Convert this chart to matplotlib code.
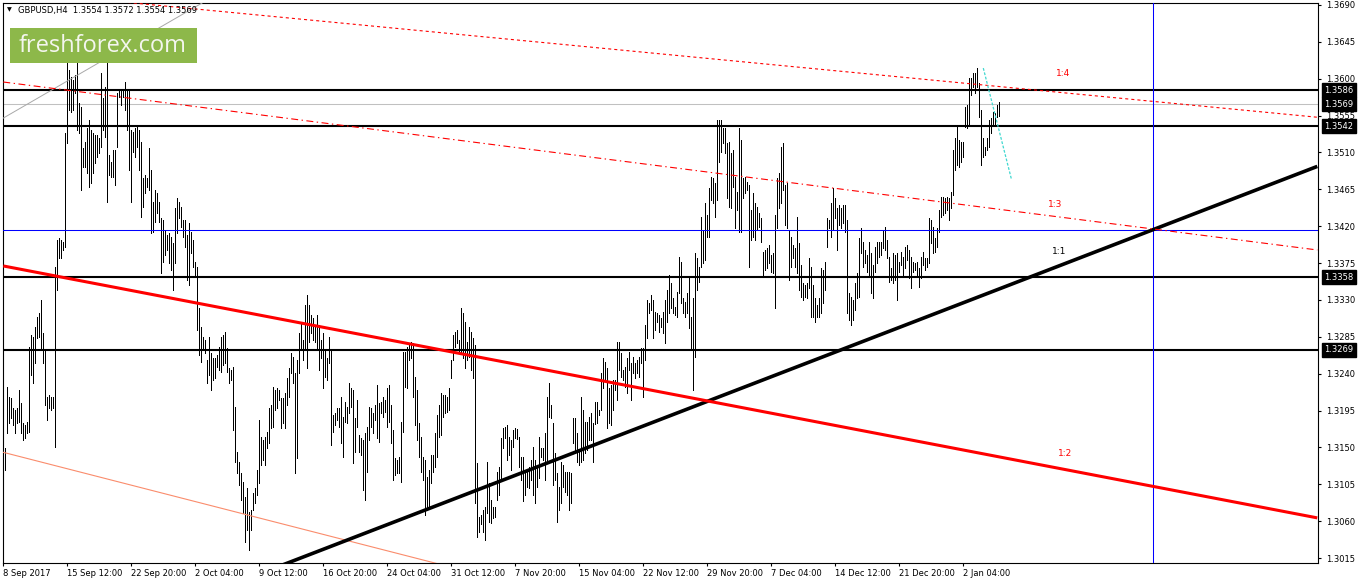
import numpy as np
import matplotlib
matplotlib.use("Agg")
import matplotlib.pyplot as plt
from matplotlib.patches import Rectangle
from matplotlib.transforms import blended_transform_factory

plt.rcParams['font.family'] = ['DejaVu Sans']
plt.rcParams['lines.scale_dashes'] = False

# GBPUSD H4 bars, high / low in pips above 1.3000
high_pips = [
    138, 149, 224, 212, 210, 198, 196, 198, 220, 204, 180, 177, 181, 273, 287, 285, 297, 309, 314, 330,
    290, 269, 212, 214, 212, 212, 370, 403, 406, 403, 401, 534, 625, 611, 602, 598, 604, 630, 570, 565,
    515, 523, 540, 550, 537, 534, 531, 531, 528, 607, 576, 590, 655, 507, 498, 513, 513, 583, 586, 586,
    586, 596, 586, 586, 537, 535, 540, 543, 537, 523, 479, 483, 479, 515, 489, 450, 464, 461, 450, 430,
    428, 415, 409, 412, 407, 400, 442, 454, 450, 443, 428, 428, 409, 424, 413, 403, 376, 370, 320, 297,
    285, 281, 257, 285, 265, 259, 259, 263, 273, 285, 287, 291, 271, 247, 245, 248, 199, 144, 132, 119,
    108, 90, 101, 71, 74, 94, 101, 123, 184, 163, 159, 163, 169, 198, 202, 224, 220, 223, 220, 210,
    210, 217, 235, 247, 265, 260, 241, 257, 290, 302, 281, 324, 336, 324, 312, 308, 297, 312, 300, 281,
    290, 269, 259, 285, 269, 190, 192, 198, 198, 212, 187, 206, 199, 229, 223, 220, 186, 208, 165, 162,
    159, 168, 175, 199, 198, 192, 202, 226, 204, 206, 212, 208, 223, 226, 202, 171, 137, 135, 138, 181,
    267, 267, 273, 275, 279, 278, 236, 220, 180, 163, 138, 135, 114, 123, 141, 141, 168, 190, 202, 217,
    214, 214, 212, 223, 257, 287, 291, 293, 281, 320, 314, 303, 279, 297, 291, 284, 275, 131, 65, 68,
    74, 77, 132, 107, 86, 77, 77, 120, 126, 162, 174, 175, 177, 163, 159, 171, 174, 172, 163, 138,
    138, 123, 120, 126, 135, 151, 135, 126, 163, 149, 149, 168, 212, 229, 202, 180, 143, 119, 102, 132,
    129, 120, 120, 120, 119, 186, 186, 168, 145, 212, 196, 181, 181, 187, 192, 180, 206, 206, 196, 241,
    259, 254, 247, 223, 226, 232, 232, 279, 279, 265, 245, 248, 259, 267, 253, 260, 253, 257, 260, 271,
    271, 300, 330, 326, 336, 330, 315, 314, 312, 308, 315, 330, 342, 361, 351, 332, 321, 340, 382, 376,
    332, 328, 339, 357, 309, 332, 387, 381, 370, 431, 415, 448, 434, 467, 480, 479, 473, 550, 550, 550,
    540, 540, 522, 523, 509, 513, 480, 462, 540, 525, 479, 480, 474, 470, 440, 461, 448, 443, 436, 430,
    389, 391, 393, 397, 385, 387, 434, 479, 485, 517, 522, 470, 473, 415, 407, 397, 393, 431, 400, 373,
    351, 348, 351, 381, 370, 348, 332, 324, 332, 369, 367, 376, 430, 428, 448, 467, 454, 442, 446, 442,
    446, 446, 428, 338, 334, 330, 351, 363, 406, 418, 401, 391, 385, 401, 387, 373, 395, 401, 401, 401,
    415, 419, 403, 382, 369, 387, 385, 387, 376, 389, 382, 395, 397, 391, 382, 376, 375, 376, 369, 382,
    389, 381, 381, 430, 428, 419, 406, 418, 440, 456, 456, 454, 456, 454, 462, 513, 528, 541, 525, 523,
    523, 565, 568, 601, 601, 607, 607, 613, 595, 562, 528, 517, 528, 550, 552, 559, 558, 568, 572,
]
low_pips = [
    98, 123, 168, 180, 186, 177, 168, 180, 181, 168, 159, 162, 168, 169, 239, 229, 253, 284, 285, 269,
    253, 202, 184, 198, 196, 198, 151, 342, 381, 381, 391, 395, 522, 562, 559, 562, 583, 537, 534, 464,
    492, 492, 485, 468, 473, 485, 497, 504, 509, 517, 537, 529, 450, 482, 480, 480, 470, 517, 578, 568,
    578, 562, 537, 489, 450, 510, 504, 517, 489, 431, 443, 460, 468, 464, 412, 413, 425, 436, 425, 363,
    376, 385, 391, 375, 367, 342, 375, 412, 430, 419, 407, 395, 354, 348, 387, 370, 358, 293, 263, 254,
    271, 265, 229, 238, 220, 232, 235, 248, 245, 242, 251, 253, 242, 229, 232, 171, 132, 119, 104, 86,
    70, 34, 49, 25, 49, 74, 82, 92, 107, 129, 135, 129, 149, 156, 174, 175, 196, 198, 208, 174,
    180, 174, 202, 212, 241, 229, 119, 137, 241, 269, 257, 269, 247, 279, 290, 281, 279, 269, 245, 259,
    223, 236, 232, 253, 153, 169, 177, 184, 175, 156, 138, 181, 180, 192, 199, 131, 145, 175, 145, 141,
    98, 86, 120, 159, 175, 168, 183, 162, 157, 192, 187, 193, 175, 181, 156, 110, 116, 119, 119, 108,
    169, 224, 223, 257, 259, 212, 177, 159, 138, 120, 110, 68, 74, 77, 107, 120, 126, 138, 163, 165,
    187, 192, 193, 196, 235, 257, 273, 278, 267, 265, 259, 247, 257, 260, 245, 235, 82, 41, 47, 56,
    47, 37, 70, 59, 58, 64, 65, 86, 92, 110, 149, 162, 135, 141, 123, 151, 162, 160, 126, 110,
    84, 92, 102, 101, 110, 92, 82, 102, 113, 138, 135, 110, 135, 187, 186, 104, 110, 59, 74, 82,
    102, 95, 92, 74, 82, 155, 143, 132, 129, 132, 135, 143, 147, 159, 159, 132, 178, 180, 190, 196,
    223, 232, 174, 180, 177, 196, 220, 208, 245, 236, 232, 224, 216, 245, 208, 241, 235, 241, 236, 253,
    212, 257, 284, 314, 318, 284, 293, 303, 291, 297, 290, 278, 303, 314, 320, 314, 312, 309, 339, 326,
    314, 309, 314, 296, 269, 220, 260, 342, 352, 370, 375, 379, 407, 407, 452, 448, 431, 452, 498, 511,
    522, 509, 454, 443, 442, 468, 418, 440, 413, 413, 454, 461, 464, 370, 403, 407, 403, 415, 419, 401,
    358, 367, 369, 375, 364, 363, 320, 418, 442, 448, 464, 421, 418, 354, 370, 381, 370, 363, 342, 334,
    330, 334, 332, 345, 309, 309, 303, 309, 309, 314, 326, 342, 395, 418, 407, 415, 430, 391, 421, 418,
    424, 413, 314, 306, 300, 306, 318, 332, 334, 387, 370, 375, 364, 358, 338, 332, 364, 375, 382, 385,
    393, 391, 381, 352, 354, 351, 354, 330, 364, 373, 358, 369, 379, 357, 345, 364, 367, 358, 346, 357,
    373, 367, 370, 375, 400, 387, 389, 395, 413, 431, 434, 436, 440, 428, 442, 458, 489, 495, 492, 498,
    504, 541, 540, 543, 580, 590, 583, 590, 553, 495, 504, 507, 513, 517, 534, 543, 543, 553, 554,
]

# right price scale
price_ticks = [1.3690, 1.3645, 1.3600, 1.3555, 1.3510, 1.3465, 1.3420, 1.3375,
               1.3330, 1.3285, 1.3240, 1.3195, 1.3150, 1.3105, 1.3060, 1.3015]
# time scale, one label every 32 bars
date_labels = ['8 Sep 2017', '15 Sep 12:00', '22 Sep 20:00', '2 Oct 04:00', '9 Oct 12:00',
               '16 Oct 20:00', '24 Oct 04:00', '31 Oct 12:00', '7 Nov 20:00', '15 Nov 04:00',
               '22 Nov 12:00', '29 Nov 20:00', '7 Dec 04:00', '14 Dec 12:00', '21 Dec 20:00',
               '2 Jan 04:00']

# horizontal levels
levels = [1.3586, 1.3542, 1.3358, 1.3269]
bid = 1.3569
blue_level = 1.3415
blue_bar = 575

# trend lines: (bar index pair, price pair)
line_11_x, line_11_y = [138, 657], [1.3005, 1.3493]
line_12_x, line_12_y = [0, 657], [1.33715, 1.3064]
line_13_x, line_13_y = [0, 657], [1.3596, 1.3391]
line_14_x, line_14_y = [50, 657], [1.3696, 1.3553]
chan_x, chan_y = [0, 230], [1.3144, 1.3000]
gray_x, gray_y = [0, 100], [1.3552, 1.36933]
cyan_x, cyan_y = [490, 504], [1.3613, 1.3478]

ratio_text = ['1:4', '1:3', '1:1', '1:2']
ratio_x = [530, 526, 528, 531]
ratio_y = [1.3607, 1.3446, 1.3389, 1.3143]
ratio_col = ['red', 'red', 'black', 'red']

highs = 1.3 + np.array(high_pips) / 10000
lows = 1.3 + np.array(low_pips) / 10000
bars = np.arange(len(highs))

W, H = 1358, 584
fig = plt.figure(figsize=(W / 100, H / 100), dpi=100)
ax = fig.add_axes([3 / W, 21 / H, 1315 / W, 560 / H])
ax.set_xlim(-0.15, 657.35)
ax.set_ylim(1.300893, 1.369244)

ax.vlines(bars, lows, highs, colors='black', linewidth=0.55, antialiased=False, zorder=2)

for lv in levels:
    ax.axhline(lv, color='black', lw=1.5, zorder=3)
ax.axhline(bid, color='#c0c0c0', lw=0.75, zorder=1)
ax.axhline(blue_level, color='#0000ff', lw=0.75, zorder=3)
ax.axvline(blue_bar, color='#0000ff', lw=0.75, zorder=3)

ax.plot(line_11_x, line_11_y, color='black', lw=2.6, zorder=4, solid_capstyle='butt')
ax.plot(line_12_x, line_12_y, color='#ff0000', lw=2.2, zorder=4, solid_capstyle='butt')
ax.plot(line_13_x, line_13_y, color='#ff0000', lw=0.8, zorder=4, linestyle=(0, (5, 2.5, 1, 2.5)))
ax.plot(line_14_x, line_14_y, color='#ff0000', lw=0.8, zorder=4, linestyle=(0, (2.2, 2.2)))
ax.plot(chan_x, chan_y, color='#fa8c6c', lw=0.8, zorder=3)
ax.plot(gray_x, gray_y, color='#a8a8a8', lw=0.7, zorder=3)
ax.plot(cyan_x, cyan_y, color='#40d8d0', lw=0.9, zorder=4, linestyle=(0, (2, 1.2)))

for t, xx, yy, c in zip(ratio_text, ratio_x, ratio_y, ratio_col):
    ax.text(xx, yy, t, color=c, fontsize=6.5, ha='center', va='center', zorder=5)

# axes styling
for sp in ax.spines.values():
    sp.set_linewidth(0.8)
    sp.set_color('black')
ax.yaxis.tick_right()
ax.set_yticks(price_ticks)
ax.set_yticklabels([f'{p:.4f}' for p in price_ticks])
ax.tick_params(axis='y', direction='out', length=2.5, width=0.8, pad=3, labelsize=6)
ax.set_xticks(np.arange(len(date_labels)) * 32)
ax.set_xticklabels(date_labels, ha='left')
ax.tick_params(axis='x', direction='out', length=2.5, width=0.8, pad=2, labelsize=6)

# price boxes on the right scale
tr = blended_transform_factory(ax.transAxes, ax.transData)
for lv in sorted(levels + [bid]):
    ax.text(1.0 + 6 / 1315, lv, f'{lv:.4f}', transform=tr, color='white', fontsize=6,
            ha='left', va='center', clip_on=False, zorder=6,
            bbox=dict(boxstyle='square,pad=0.3', fc='black', ec='black'))

# symbol header
fig.text(7 / W, 1 - 10 / H, '\u25bc', fontsize=4.5, va='center', ha='left', color='black')
fig.text(18 / W, 1 - 10 / H, 'GBPUSD,H4  1.3554 1.3572 1.3554 1.3569', fontsize=6,
         va='center', ha='left', color='black')

# logo
fig.add_artist(Rectangle((10 / W, 1 - 63 / H), 187 / W, 35 / H, transform=fig.transFigure,
                         facecolor='#8db84a', edgecolor='none', zorder=5))
fig.text(103 / W, 1 - 46 / H, 'freshforex.com', fontsize=17, family=['Open Sans', 'DejaVu Sans'],
         color='#f4f6ee', ha='center', va='center', zorder=6)

fig.savefig('out.png', dpi=100, facecolor='white')
